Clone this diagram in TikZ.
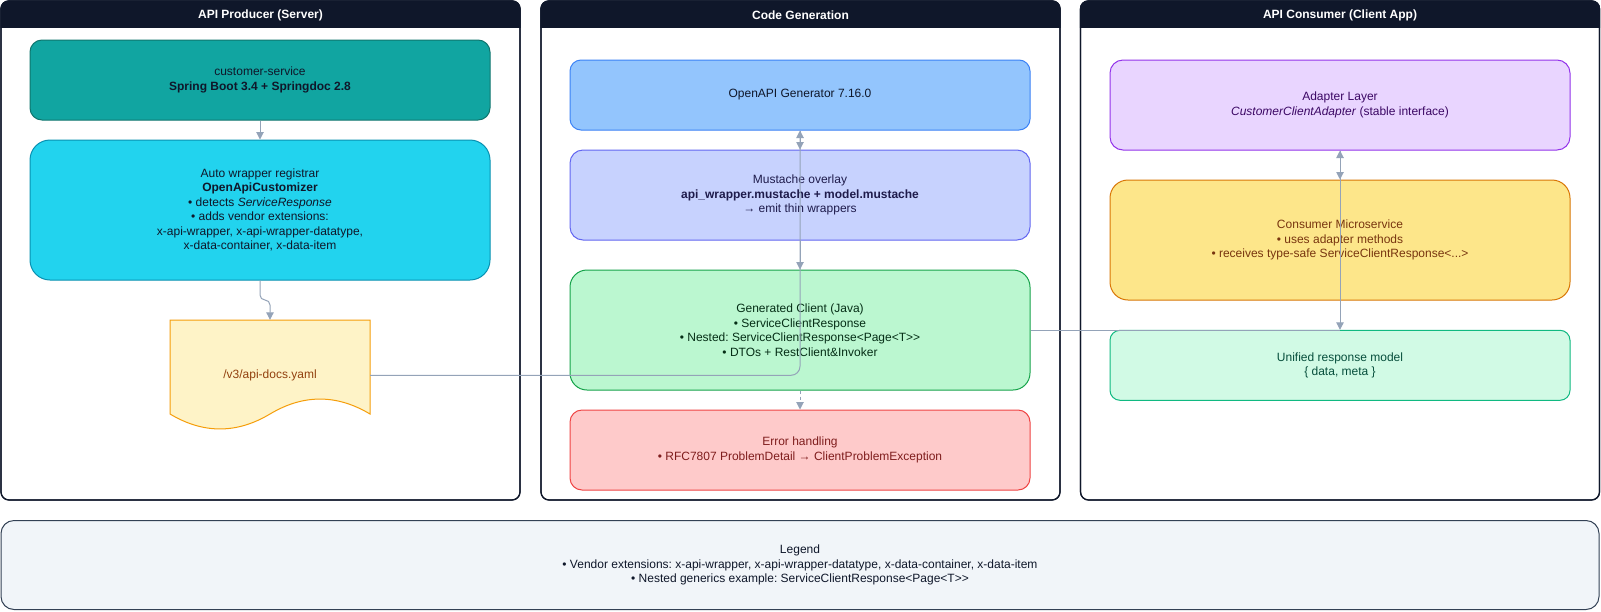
\documentclass[tikz,border=0pt]{standalone}
\usepackage{fontspec}
\setmainfont{Liberation Sans}
\usetikzlibrary{arrows.meta,calc}
\frenchspacing
\definecolor{hdr}{HTML}{0F172A}
\definecolor{arrowc}{HTML}{94A3B8}
\definecolor{tealfill}{HTML}{11A5A1}
\definecolor{tealline}{HTML}{0F766E}
\definecolor{cyanfill}{HTML}{22D3EE}
\definecolor{cyanline}{HTML}{0891B2}
\definecolor{yamlfill}{HTML}{FEF3C7}
\definecolor{yamlline}{HTML}{F59E0B}
\definecolor{yamltext}{HTML}{92400E}
\definecolor{genfill}{HTML}{93C5FD}
\definecolor{genline}{HTML}{3B82F6}
\definecolor{musfill}{HTML}{C7D2FE}
\definecolor{musline}{HTML}{6366F1}
\definecolor{mustext}{HTML}{1E1B4B}
\definecolor{grnfill}{HTML}{BBF7D0}
\definecolor{grnline}{HTML}{16A34A}
\definecolor{grntext}{HTML}{052E16}
\definecolor{errfill}{HTML}{FECACA}
\definecolor{errline}{HTML}{EF4444}
\definecolor{errtext}{HTML}{7F1D1D}
\definecolor{adpfill}{HTML}{E9D5FF}
\definecolor{adpline}{HTML}{9333EA}
\definecolor{adptext}{HTML}{3B0764}
\definecolor{conFill}{HTML}{FDE68A}
\definecolor{conline}{HTML}{D97706}
\definecolor{context}{HTML}{78350F}
\definecolor{unifill}{HTML}{D1FAE5}
\definecolor{uniline}{HTML}{10B981}
\definecolor{unitext}{HTML}{064E3B}
\definecolor{legfill}{HTML}{F1F5F9}
\definecolor{legline}{HTML}{334155}
\begin{document}
\begin{tikzpicture}[x=1pt,y=-1pt,
  every node/.style={font=\fontsize{12}{14.5}\selectfont},
  panel/.style={rectangle, draw=hdr, line width=1.2pt, rounded corners=8pt,
    minimum width=519pt, minimum height=499pt, inner sep=0pt},
  hdrtext/.style={text=white, font=\fontsize{12}{14.5}\selectfont\bfseries},
  box/.style={rectangle, line width=1pt, align=center, minimum width=460pt, inner sep=0pt, text=hdr},
  tealbox/.style={box, fill=tealfill, draw=tealline, rounded corners=12pt},
  cyanbox/.style={box, fill=cyanfill, draw=cyanline, rounded corners=20pt},
  genbox/.style={box, fill=genfill, draw=genline, rounded corners=11pt},
  musbox/.style={box, fill=musfill, draw=musline, rounded corners=13pt, text=mustext},
  grnbox/.style={box, fill=grnfill, draw=grnline, rounded corners=17pt, text=grntext},
  errbox/.style={box, fill=errfill, draw=errline, rounded corners=12pt, text=errtext},
  adpbox/.style={box, fill=adpfill, draw=adpline, rounded corners=13pt, text=adptext},
  conbox/.style={box, fill=conFill, draw=conline, rounded corners=18pt, text=context},
  unibox/.style={box, fill=unifill, draw=uniline, rounded corners=10pt, text=unitext},
  legbox/.style={box, fill=legfill, draw=legline, rounded corners=13pt, minimum width=1598pt, minimum height=89pt},
  conn/.style={draw=arrowc, line width=1pt, -{Triangle[length=7.5pt,width=7.5pt]}},
  bothconn/.style={draw=arrowc, line width=1pt, {Triangle[length=7.5pt,width=7.5pt]}-{Triangle[length=7.5pt,width=7.5pt]}},
  plainconn/.style={draw=arrowc, line width=1pt}
]
\useasboundingbox (0,0) rectangle (1601,611);

% panels
\node[panel, fill=white] (pL) at (260.5,250.5) {};
\node[panel, fill=white] (pM) at (800.5,250.5) {};
\node[panel, fill=white] (pR) at (1340,250.5) {};
\foreach \p in {pL,pM,pR}{
  \begin{scope}
    \clip (\p.north west) rectangle ($(\p.north east)+(0,27.5)$);
    \fill[hdr, rounded corners=8pt] (\p.north west) rectangle (\p.south east);
  \end{scope}
}
\node[panel] (pLo) at (260.5,250.5) {};
\node[panel] (pMo) at (800.5,250.5) {};
\node[panel] (pRo) at (1340,250.5) {};
\node[hdrtext] (tL) at (260.5,15) {API Producer (Server)};
\node[hdrtext] (tM) at (800.5,15) {Code Generation};
\node[hdrtext] (tR) at (1340,15) {API Consumer (Client App)};

% left column
\node[tealbox, minimum height=80pt] (cust) at (260,80)
  {customer-service\\\textbf{Spring Boot 3.4 + Springdoc 2.8}};
\node[cyanbox, minimum height=140pt] (auto) at (260,210)
  {Auto wrapper registrar\\\textbf{OpenApiCustomizer}\\• detects \textit{ServiceResponse}\\• adds vendor extensions:\\x-api-wrapper, x-api-wrapper-datatype,\\x-data-container, x-data-item};
\filldraw[fill=yamlfill, draw=yamlline, line width=1pt]
  (170,320) -- (370,320) -- (370,414)
  .. controls (336.67,394.07) and (303.33,394.07) .. (270,414)
  .. controls (236.67,433.93) and (203.33,433.93) .. (170,414) -- cycle;
\node[rectangle, minimum width=200pt, minimum height=110.6pt, inner sep=0pt, text=yamltext] (yaml) at (270,375.3) {/v3/api-docs.yaml};

% middle column
\node[genbox, minimum height=70pt] (gen) at (800,95) {OpenAPI Generator 7.16.0};
\node[musbox, minimum height=90pt] (must) at (800,195)
  {Mustache overlay\\\textbf{api\_wrapper.mustache + model.mustache}\\→ emit thin wrappers};
\node[grnbox, minimum height=120pt] (green) at (800,330)
  {Generated Client (Java)\\• ServiceClientResponse\\• Nested: ServiceClientResponse<Page<T>{}>\\• DTOs + RestClient\&Invoker};
\node[errbox, minimum height=80pt] (err) at (800,450)
  {Error handling\\• RFC7807 ProblemDetail → ClientProblemException};

% right column
\node[adpbox, minimum height=90pt] (adp) at (1340,105)
  {Adapter Layer\\\textit{CustomerClientAdapter} (stable interface)};
\node[conbox, minimum height=120pt] (cons) at (1340,240)
  {Consumer Microservice\\• uses adapter methods\\• receives type-safe ServiceClientResponse<...>};
\node[unibox, minimum height=70pt] (uni) at (1340,365.3)
  {Unified response model\\\{ data, meta \}};

% legend
\node[legbox] (leg) at (800,565)
  {Legend\\• Vendor extensions: x-api-wrapper, x-api-wrapper-datatype, x-data-container, x-data-item\\• Nested generics example: ServiceClientResponse<Page<T>{}>};

% connectors
\draw[conn] (cust.south) -- (auto.north);
\draw[conn, rounded corners=5pt] (auto.south) -- (260,300) -- (270,300) -- (yaml.north);
\draw[conn, rounded corners=9pt] (yaml.east) -- (yaml.east -| gen.south) -- (gen.south);
\draw[conn] (gen.south) -- (must.north);
\draw[conn] (must.south) -- (green.north);
\draw[conn, dash pattern=on 3pt off 3pt] (green.south) -- (err.north);
\draw[plainconn] (green.east) -- (green.east -| uni.north);
\draw[bothconn] (adp.south) -- (cons.north);
\draw[conn] (adp.south) -- (uni.north);
\end{tikzpicture}
\end{document}
